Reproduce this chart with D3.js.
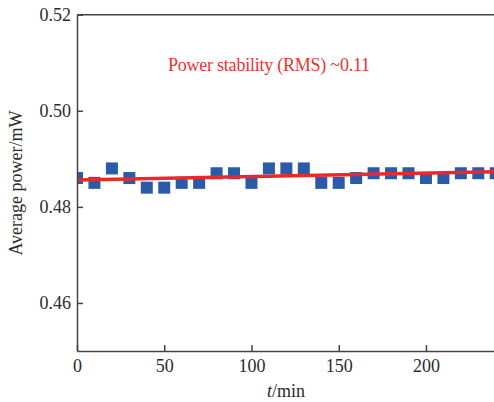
<!DOCTYPE html>
<meta charset="utf-8">
<head>
<style>
  body { margin: 0; background: #fff; }
  .axis text { font: 18px "Liberation Serif", serif; fill: #2b2b2b; }
  .axis path, .axis line { stroke: #444; stroke-width: 1.5px; }
</style>
</head>
<body>
<svg id="chart"></svg>
<script src="https://d3js.org/d3.v7.min.js"></script>
<script>

// measured power every 10 min
var times = [0, 10, 20, 30, 40, 50, 60, 70, 80, 90, 100, 110, 120,
             130, 140, 150, 160, 170, 180, 190, 200, 210, 220, 230, 240];
var power = [0.486, 0.485, 0.488, 0.486, 0.484, 0.484, 0.485, 0.485, 0.487, 0.487, 0.485, 0.488, 0.488,
             0.488, 0.485, 0.485, 0.486, 0.487, 0.487, 0.487, 0.486, 0.486, 0.487, 0.487, 0.487];

// linear fit endpoints
var fitTimes = [0, 240];
var fitPower = [0.4856, 0.4873];

var xTicks = [0, 50, 100, 150, 200];
var yTicks = [0.46, 0.48, 0.50, 0.52];

var W = 494, H = 402;
var margin = {top: 14.7, left: 77, bottom: 51};
var plotH = H - margin.top - margin.bottom;

var svg = d3.select("#chart").attr("width", W).attr("height", H);

var x = d3.scaleLinear().domain([0, 239]).range([margin.left, W]);
var y = d3.scaleLinear().domain([0.45, 0.52]).range([H - margin.bottom, margin.top]);

svg.append("clipPath").attr("id", "clip")
  .append("rect")
  .attr("x", margin.left).attr("y", margin.top)
  .attr("width", W - margin.left).attr("height", plotH);

var plot = svg.append("g").attr("clip-path", "url(#clip)");

// squares
var sz = 12;
plot.selectAll("rect.pt")
  .data(times)
  .enter().append("rect")
  .attr("class", "pt")
  .attr("x", function(d) { return x(d) - sz / 2; })
  .attr("y", function(d, i) { return y(power[i]) - sz / 2; })
  .attr("width", sz).attr("height", sz)
  .attr("fill", "#2a5ba9");

// fit line
plot.append("path")
  .datum(fitTimes)
  .attr("d", d3.line()
    .x(function(d) { return x(d); })
    .y(function(d, i) { return y(fitPower[i]); }))
  .attr("fill", "none")
  .attr("stroke", "#ea2a2a")
  .attr("stroke-width", 3.5);

// axes
svg.append("g")
  .attr("class", "axis")
  .attr("transform", "translate(0," + (H - margin.bottom) + ")")
  .call(d3.axisBottom(x).tickValues(xTicks).tickFormat(d3.format("d"))
    .tickSizeInner(-6).tickSizeOuter(0).tickPadding(8));

svg.append("g")
  .attr("class", "axis")
  .attr("transform", "translate(" + margin.left + ",0)")
  .call(d3.axisLeft(y).tickValues(yTicks).tickFormat(d3.format(".2f"))
    .tickSizeInner(-6).tickSizeOuter(0).tickPadding(6));

// top frame line
svg.append("line")
  .attr("x1", margin.left).attr("x2", W)
  .attr("y1", margin.top).attr("y2", margin.top)
  .attr("stroke", "#444").attr("stroke-width", 1.5);

// labels
svg.append("text")
  .attr("x", 286).attr("y", 397)
  .attr("text-anchor", "middle")
  .style("font", "18px 'Liberation Serif', serif")
  .style("fill", "#2b2b2b")
  .html("<tspan font-style='italic'>t</tspan>/min");

svg.append("text")
  .attr("transform", "translate(22,183) rotate(-90)")
  .attr("text-anchor", "middle")
  .style("font", "18px 'Liberation Serif', serif")
  .style("fill", "#2b2b2b")
  .text("Average power/mW");

svg.append("text")
  .attr("x", 168).attr("y", 71)
  .attr("textLength", 202)
  .attr("lengthAdjust", "spacing")
  .style("font", "18px 'Liberation Serif', serif")
  .style("fill", "#e8352f")
  .text("Power stability (RMS) ~0.11");

</script>
</body>
